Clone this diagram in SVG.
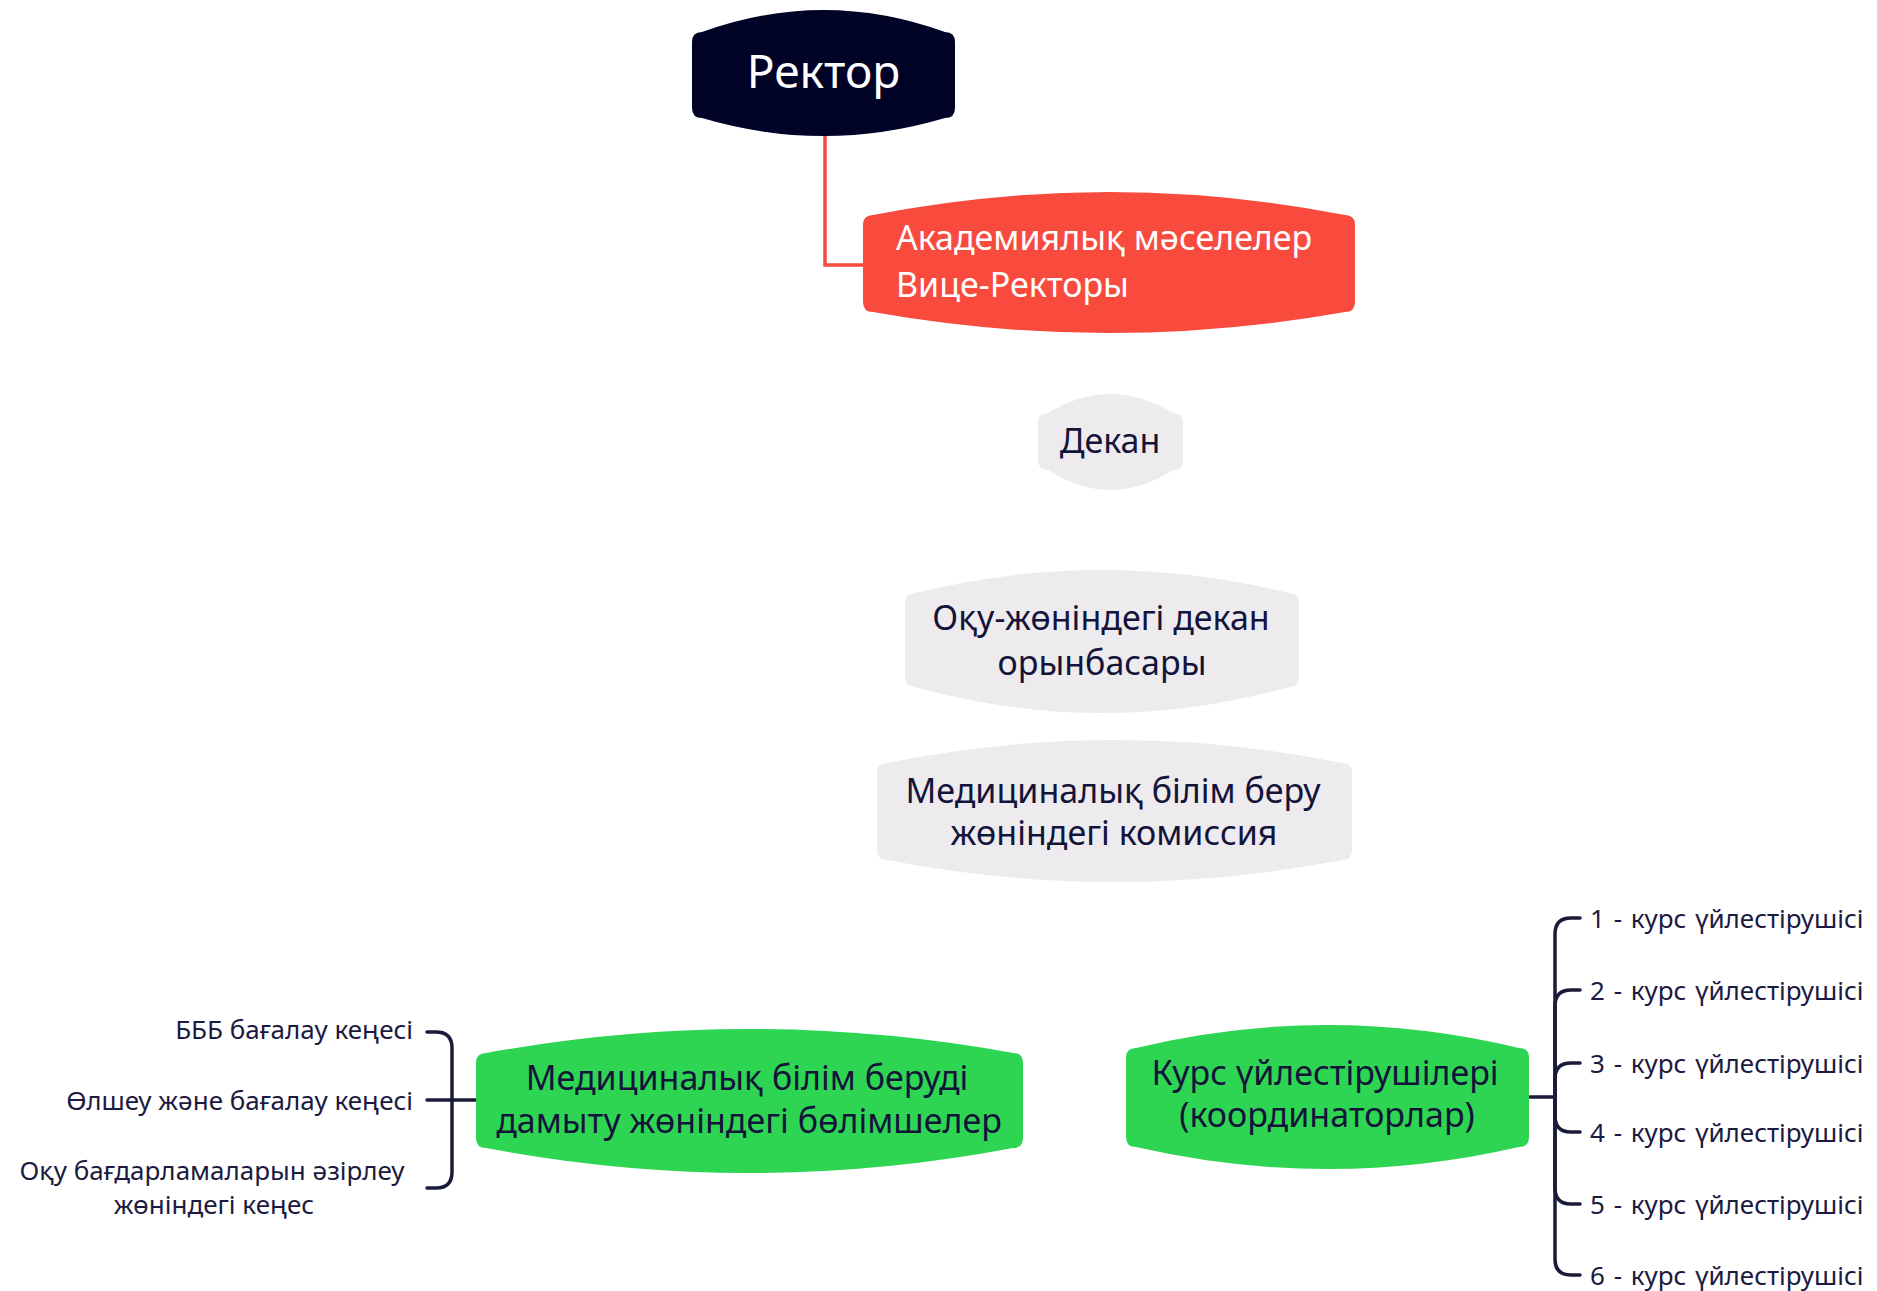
<svg xmlns="http://www.w3.org/2000/svg" width="1877" height="1291" viewBox="0 0 1877 1291">
<style>
  .t { font-family: "Noto Sans", "Open Sans", sans-serif; }
  .big { font-size: 34px; fill: #14143a; text-anchor: middle; }
  .small { font-size: 26px; fill: #1c1a40; }
  .course { word-spacing: 2px; }
  .gray { fill: #EDEBEE; }
  .green { fill: #2ED553; }
  .br { fill: none; stroke: #1a1a3a; stroke-width: 3.5; stroke-linecap: round; }
</style>
<rect width="1877" height="1291" fill="#ffffff"/>
<g id="connectors">
  <path d="M825,136 V265 H863" fill="none" stroke="#F94A3E" stroke-width="3.5"/>
  <path class="br" d="M427,1032 H436 Q452,1032 452,1048 V1100"/>
  <path class="br" d="M427,1188 H436 Q452,1188 452,1172 V1100"/>
  <path class="br" d="M427,1100 H476"/>
  <path class="br" d="M1530,1097 H1555"/>
  <path class="br" d="M1555,1097 V934 Q1555,918 1571,918 H1580"/>
  <path class="br" d="M1555,1097 V1006 Q1555,990 1571,990 H1580"/>
  <path class="br" d="M1555,1097 V1079 Q1555,1063 1571,1063 H1580"/>
  <path class="br" d="M1555,1097 V1116 Q1555,1132 1571,1132 H1580"/>
  <path class="br" d="M1555,1097 V1188 Q1555,1204 1571,1204 H1580"/>
  <path class="br" d="M1555,1097 V1259 Q1555,1275 1571,1275 H1580"/>
</g>
<g id="rector">
  <path fill="#010326" d="M692,42 Q692,32 702,32 Q823.5,-12 945,32 Q955,32 955,42 V108 Q955,118 945,118 Q823.5,154 702,118 Q692,118 692,108 Z"/>
  <text class="t" x="823.5" y="88" font-size="46" fill="#ffffff" text-anchor="middle">Ректор</text>
</g>
<g id="vice-rector">
  <path fill="#F94A3E" d="M863,225 Q863,215 873,215 Q1109,169 1345,215 Q1355,215 1355,225 V302 Q1355,312 1345,312 Q1109,354 873,312 Q863,312 863,302 Z"/>
  <text class="t" x="896" y="250" font-size="34" fill="#ffffff">Академиялық мәселелер</text>
  <text class="t" x="896" y="297" font-size="34" fill="#ffffff">Вице-Ректоры</text>
</g>
<g id="dekan">
  <path class="gray" d="M1038,423 Q1038,413 1048,413 Q1110.5,375 1173,413 Q1183,413 1183,423 V460 Q1183,470 1173,470 Q1110.5,510 1048,470 Q1038,470 1038,460 Z"/>
  <text class="t big" x="1110" y="453">Декан</text>
</g>
<g id="deputy-dean">
  <path class="gray" d="M905,603 Q905,593 915,593 Q1102,547 1289,593 Q1299,593 1299,603 V677 Q1299,687 1289,687 Q1102,739 915,687 Q905,687 905,677 Z"/>
  <text class="t big" x="1101" y="630">Оқу-жөніндегі декан</text>
  <text class="t big" x="1102" y="675">орынбасары</text>
</g>
<g id="commission">
  <path class="gray" d="M877,773 Q877,763 887,763 Q1114.5,717 1342,763 Q1352,763 1352,773 V850 Q1352,860 1342,860 Q1114.5,904 887,860 Q877,860 877,850 Z"/>
  <text class="t big" x="1113" y="803">Медициналық білім беру</text>
  <text class="t big" x="1114" y="845">жөніндегі комиссия</text>
</g>
<g id="departments">
  <path class="green" d="M476,1063 Q476,1053 486,1053 Q749.5,1005 1013,1053 Q1023,1053 1023,1063 V1138 Q1023,1148 1013,1148 Q749.5,1198 486,1148 Q476,1148 476,1138 Z"/>
  <text class="t big" x="747" y="1090">Медициналық білім беруді</text>
  <text class="t big" x="749" y="1133">дамыту жөніндегі бөлімшелер</text>
</g>
<g id="councils">
  <text class="t small" x="413" y="1039" text-anchor="end">БББ бағалау кеңесі</text>
  <text class="t small" x="413" y="1110" text-anchor="end">Өлшеу және бағалау кеңесі</text>
  <text class="t small" x="212" y="1180" text-anchor="middle" font-size="25">Оқу бағдарламаларын әзірлеу</text>
  <text class="t small" x="214" y="1214" text-anchor="middle" font-size="25">жөніндегі кеңес</text>
</g>
<g id="coordinators">
  <path class="green" d="M1126,1058 Q1126,1048 1136,1048 Q1327.5,1002 1519,1048 Q1529,1048 1529,1058 V1137 Q1529,1147 1519,1147 Q1327.5,1191 1136,1147 Q1126,1147 1126,1137 Z"/>
  <text class="t big" x="1325" y="1085">Курс үйлестірушілері</text>
  <text class="t big" x="1327" y="1127">(координаторлар)</text>
</g>
<g id="course-coordinators">
  <text class="t small course" x="1590" y="928">1 - курс үйлестірушісі</text>
  <text class="t small course" x="1590" y="1000">2 - курс үйлестірушісі</text>
  <text class="t small course" x="1590" y="1073">3 - курс үйлестірушісі</text>
  <text class="t small course" x="1590" y="1142">4 - курс үйлестірушісі</text>
  <text class="t small course" x="1590" y="1214">5 - курс үйлестірушісі</text>
  <text class="t small course" x="1590" y="1285">6 - курс үйлестірушісі</text>
</g>
</svg>
